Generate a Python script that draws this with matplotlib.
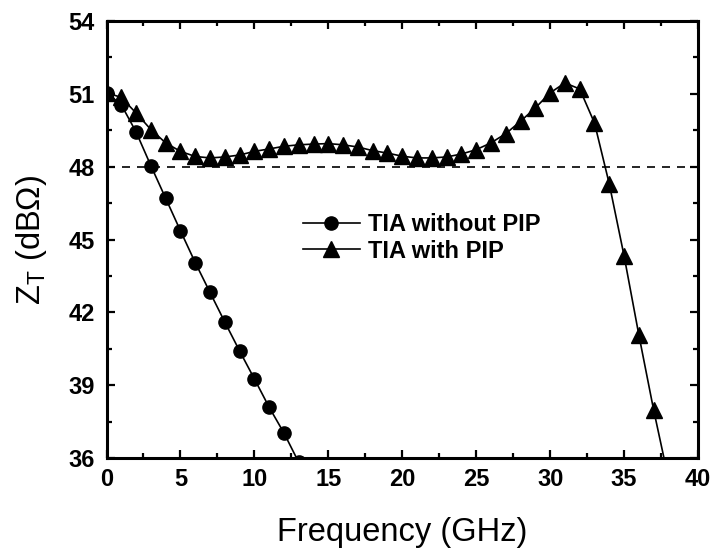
import matplotlib
matplotlib.use("Agg")
import matplotlib.pyplot as plt
from matplotlib.ticker import MultipleLocator

plt.rcParams['font.family'] = ['Liberation Sans', 'DejaVu Sans']
plt.rcParams['mathtext.fontset'] = 'custom'
plt.rcParams['mathtext.rm'] = 'Liberation Sans'

# data
freq_without = [0, 1, 2, 3, 4, 5, 6, 7, 8, 9, 10, 11, 12, 13]
zt_without = [51.05, 50.55, 49.43, 48.04, 46.70, 45.36, 44.05, 42.82, 41.60,
              40.41, 39.26, 38.09, 37.03, 35.82]

freq_with = list(range(0, 39))
zt_with = [51.05, 50.85, 50.21, 49.53, 48.98, 48.63, 48.42, 48.36, 48.40, 48.48,
           48.63, 48.73, 48.84, 48.90, 48.93, 48.95, 48.90, 48.81, 48.66, 48.56,
           48.43, 48.36, 48.36, 48.40, 48.52, 48.70, 48.98, 49.36, 49.87, 50.42,
           51.04, 51.45, 51.20, 49.80, 47.29, 44.33, 41.07, 37.98, 35.15]

ref_level = 48
labels = ['TIA without PIP', 'TIA with PIP']
xlim = (0, 40)
ylim = (36, 54)

fig = plt.figure(figsize=(7.13, 5.56), dpi=100)
ax = fig.add_axes([106.5/713, 1-458/556, (698-106.5)/713, (458-21)/556])

ax.plot(freq_without, zt_without, color='black', lw=1.2, marker='o', ms=9.5,
        label=labels[0])
ax.plot(freq_with, zt_with, color='black', lw=1.2, marker='^', ms=11,
        label=labels[1])
ax.axhline(ref_level, color='black', lw=1.2, dashes=(4.8, 4.2))

ax.set_xlim(*xlim)
ax.set_ylim(*ylim)
ax.xaxis.set_major_locator(MultipleLocator(5))
ax.xaxis.set_minor_locator(MultipleLocator(2.5))
ax.yaxis.set_major_locator(MultipleLocator(3))
ax.yaxis.set_minor_locator(MultipleLocator(1.5))
ax.tick_params(which='both', direction='in', top=True, right=True, width=1.6)
ax.tick_params(which='major', length=6)
ax.tick_params(which='minor', length=3.5)
ax.tick_params(axis='x', which='major', pad=7)
ax.tick_params(axis='y', which='major', pad=8.5)
for s in ax.spines.values():
    s.set_linewidth(2.2)
for lab in ax.get_xticklabels() + ax.get_yticklabels():
    lab.set_fontsize(17)
    lab.set_fontweight('bold')

ax.set_xlabel('Frequency (GHz)', fontsize=23.5, labelpad=19)
ax.set_ylabel('Z$_\\mathregular{T}$ (dB\u03a9)', fontsize=23.5, labelpad=14)

leg = ax.legend(loc='upper left', bbox_to_anchor=(303/713, 1-213/556),
                bbox_transform=fig.transFigure, frameon=False,
                prop={'size': 17, 'weight': 'bold'}, handlelength=2.4,
                handletextpad=0.35, labelspacing=0.15, borderpad=0,
                borderaxespad=0)

fig.savefig('out.png', dpi=100)
